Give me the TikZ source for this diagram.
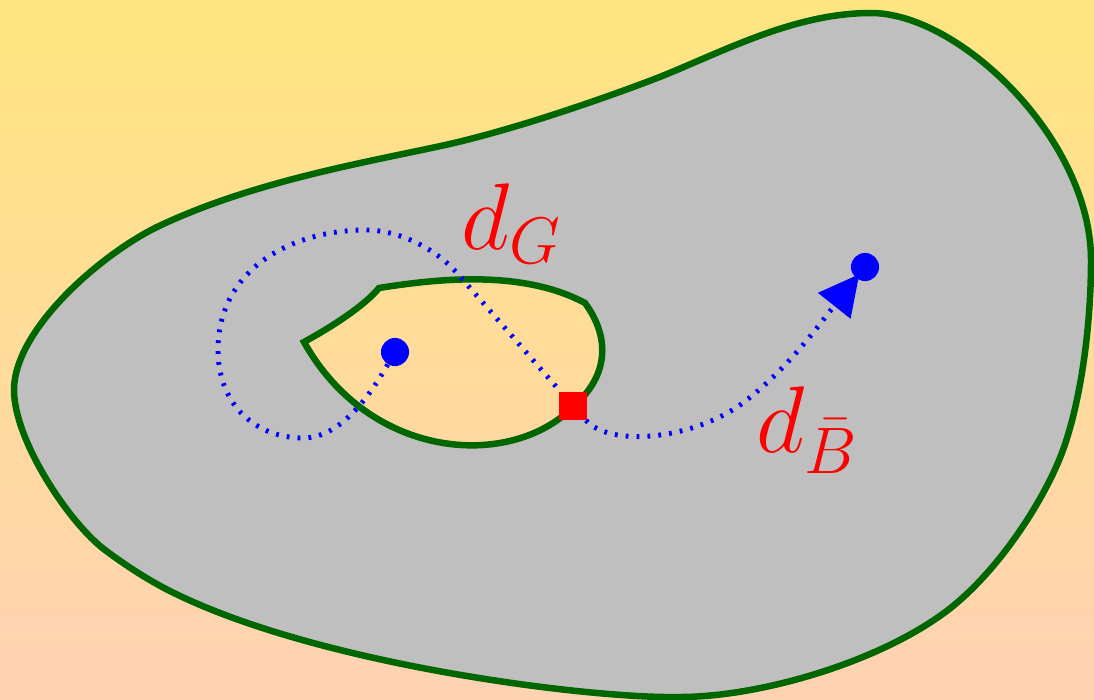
\documentclass[tikz,border=0pt]{standalone}
\usepackage{amsmath}
\usepackage{graphicx}
\usepackage{tikz}
\usetikzlibrary{arrows.meta}

\definecolor{bgtop}{RGB}{255,229,128}
\definecolor{bgbottom}{RGB}{255,210,180}
\definecolor{blobgray}{RGB}{191,191,191}
\definecolor{bordergreen}{RGB}{0,102,0}

\newcommand{\biglabel}[1]{\scalebox{3.12}{\LARGE #1}}

\begin{document}
\begin{tikzpicture}[x=0.02cm, y=-0.02cm,
    bluepath/.style={blue, line width=2.8pt, dash pattern=on 1.6pt off 4.6pt},
    bluedot/.style={circle, fill=blue, inner sep=0pt, minimum size=16pt},
    redsq/.style={rectangle, fill=red, inner sep=0pt, minimum size=16pt},
    dlabel/.style={red, inner sep=0pt, anchor=base west}]

\useasboundingbox (0, 0) rectangle (1094, 699);
\shade[top color=bgtop, bottom color=bgbottom] (0, 0) rectangle (1094, 699);

% region with its hole
\path[fill=blobgray, draw=bordergreen, line width=3.7pt, even odd rule]
    (14, 390) .. controls (14, 330) and (100, 255) .. (157, 227)
    .. controls (257, 179) and (380, 160) .. (454, 143)
    .. controls (517, 128) and (591, 103) .. (652, 80)
    .. controls (717, 55) and (791, 13) .. (871, 13)
    .. controls (960, 13) and (1091, 140) .. (1091, 260)
    .. controls (1091, 330) and (1080, 403) .. (1063, 450)
    .. controls (1046, 497) and (1000, 570) .. (948, 610)
    .. controls (880, 662) and (760, 697) .. (680, 697)
    .. controls (590, 699) and (320, 665) .. (174, 593)
    .. controls (151, 582) and (125, 565) .. (105, 550)
    .. controls (69, 523) and (14, 440) .. (14, 390) -- cycle
    (304, 342) .. controls (335, 325) and (365, 305) .. (379, 288)
    .. controls (430, 280) and (520, 268) .. (585, 303)
    .. controls (605, 330) and (615, 370) .. (573, 407)
    .. controls (510, 470) and (370, 460) .. (304, 342) -- cycle;

\node[bluedot] (start) at (395, 352) {};
\node[bluedot] (goal) at (865, 267) {};
\node[redsq] (exit) at (573, 406) {};

\draw[bluepath] (start) .. controls (370, 395) and (340, 440) .. (300, 438)
    .. controls (250, 436) and (218, 400) .. (218, 350)
    .. controls (218, 270) and (290, 231) .. (363, 230)
    .. controls (397, 229) and (435, 248) .. (457, 273) -- (exit);
\draw[bluepath, shorten >=-3pt, -{Triangle[length=23pt, width=23pt]}] (exit)
    .. controls (610, 447) and (690, 440) .. (740, 405)
    .. controls (785, 372) and (815, 330) .. (goal);

\node[dlabel] (dG) at (461, 249) {\biglabel{$d_G$}};
\node[dlabel] (dB) at (756, 452) {\biglabel{$d_{\bar{B}}$}};
\end{tikzpicture}
\end{document}
